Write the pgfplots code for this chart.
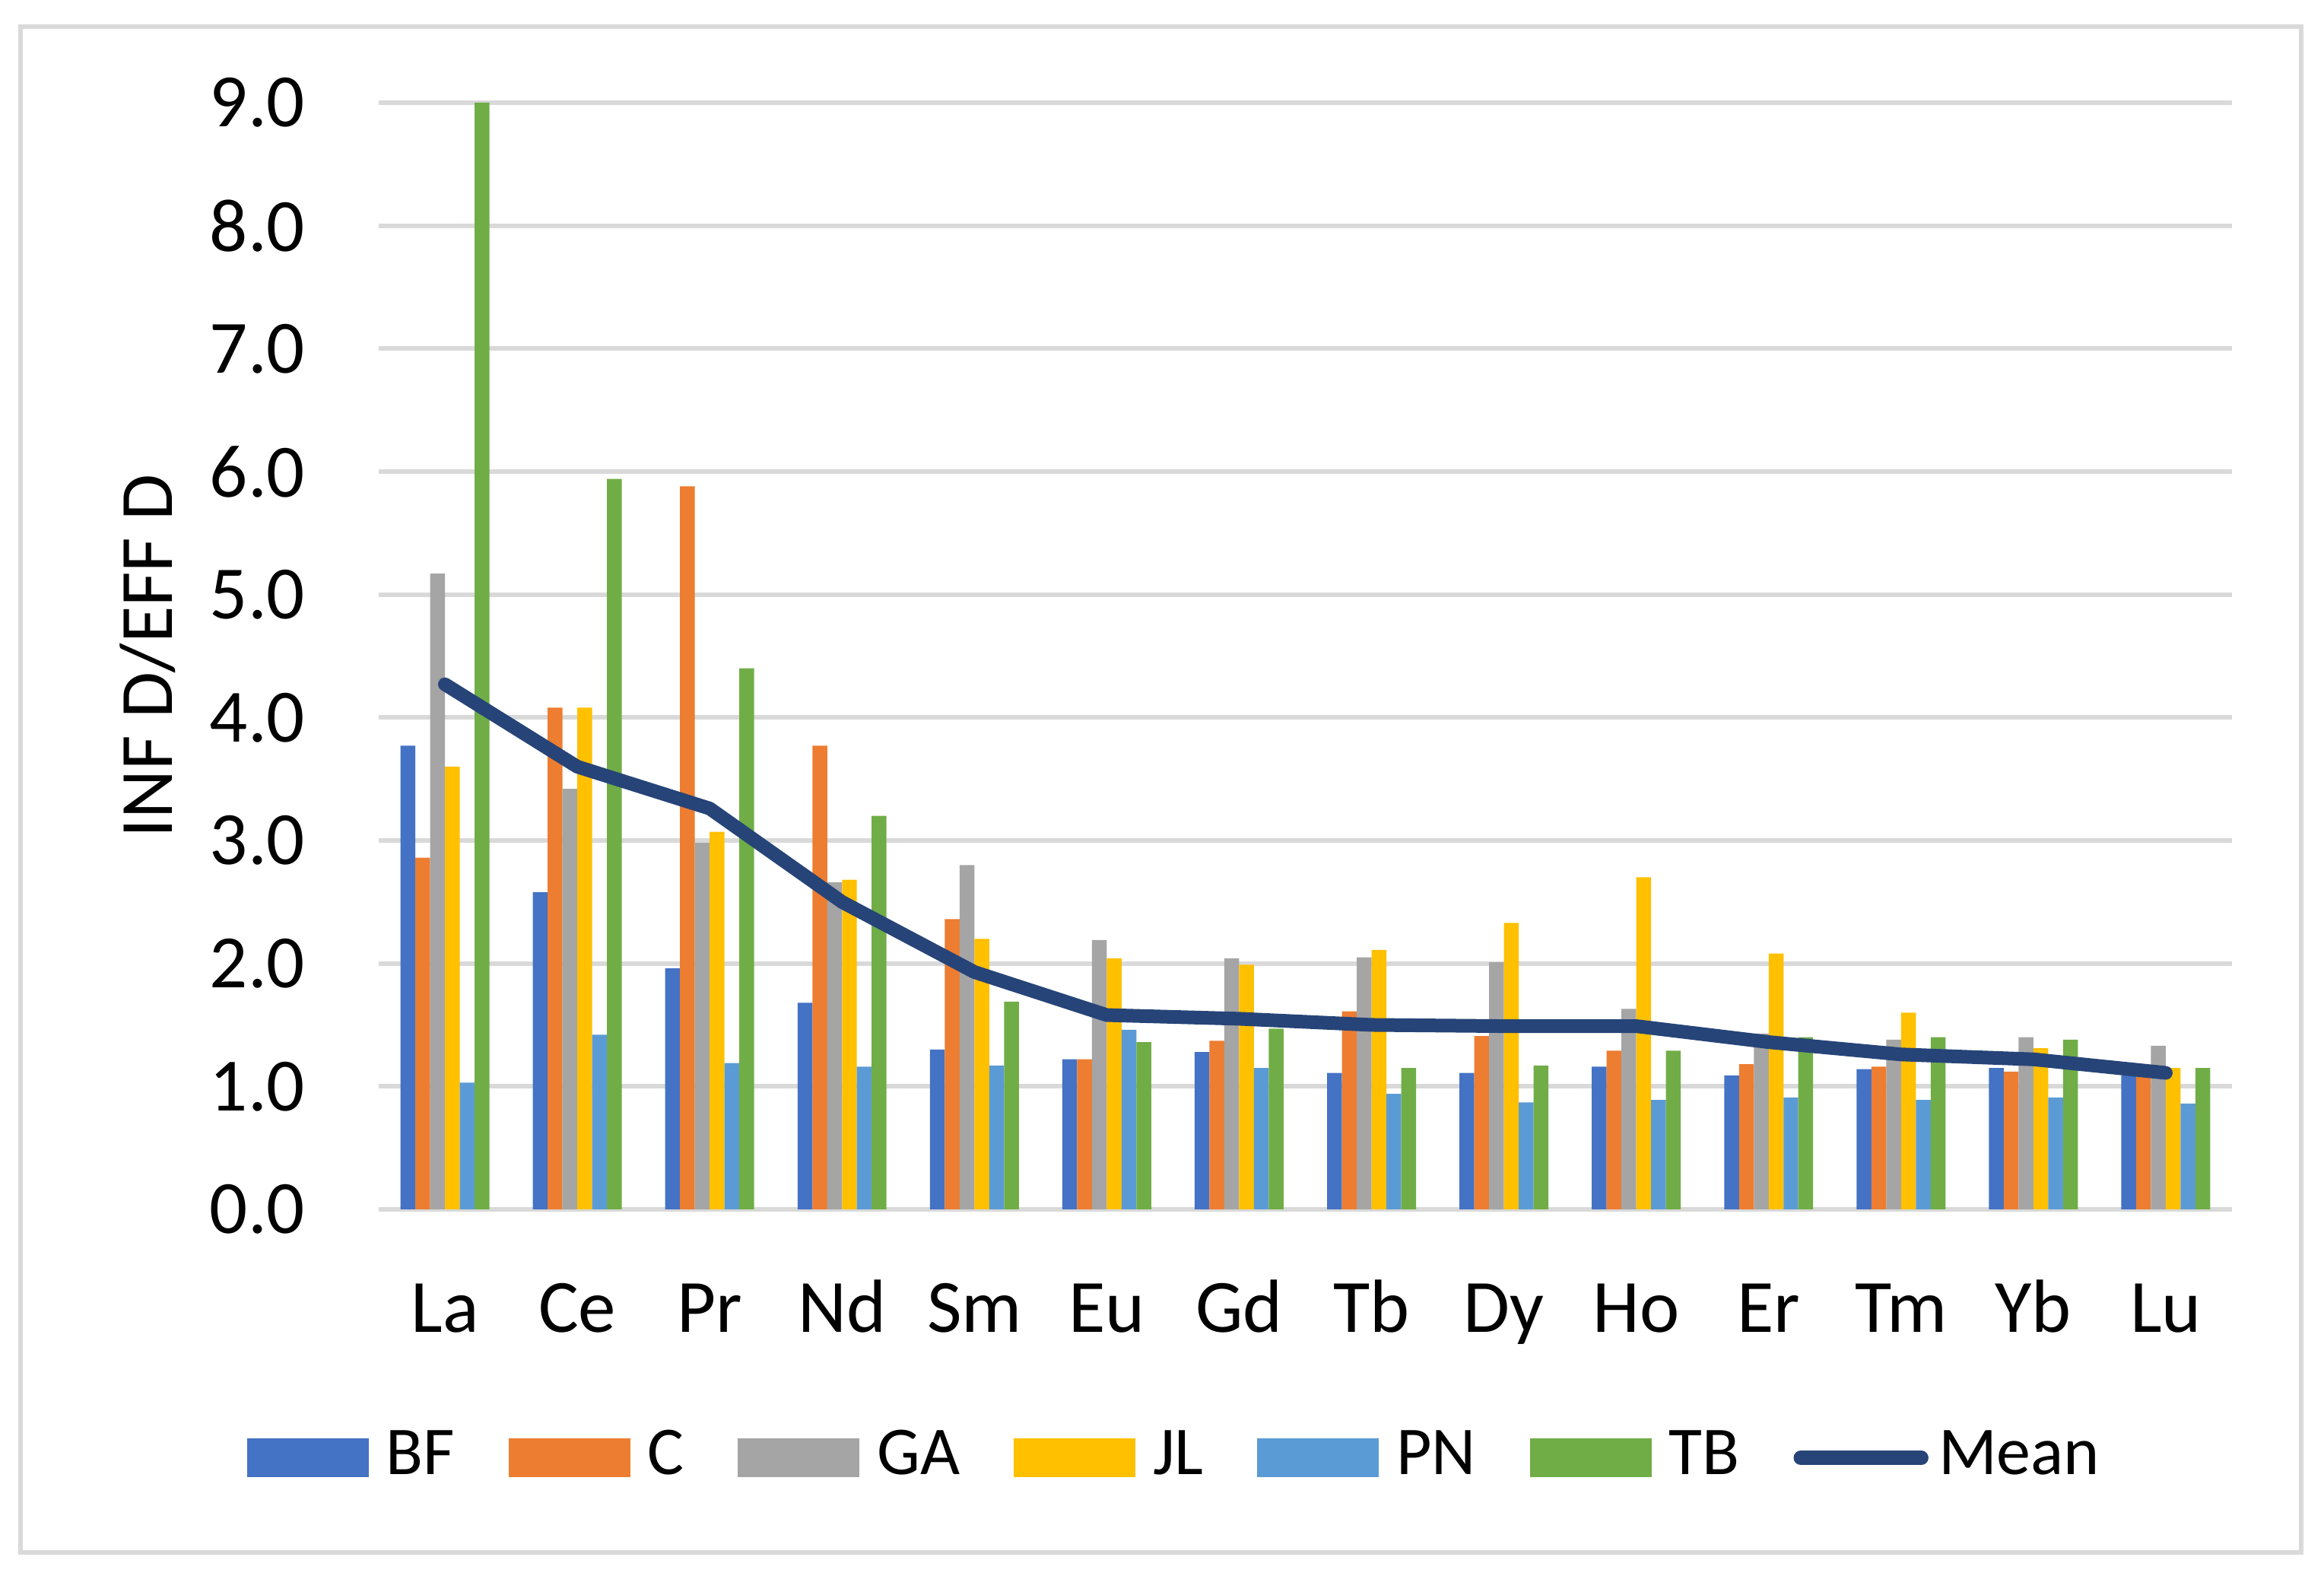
\documentclass[border=0pt]{standalone}
\usepackage{fontspec}
\setmainfont{Carlito}
\usepackage{pgfplots}
\usepackage{pgfplotstable}
\pgfplotsset{compat=1.18}

\definecolor{cBF}{HTML}{4472C4}
\definecolor{cC}{HTML}{ED7D31}
\definecolor{cGA}{HTML}{A5A5A5}
\definecolor{cJL}{HTML}{FFC000}
\definecolor{cPN}{HTML}{5B9BD5}
\definecolor{cTB}{HTML}{70AD47}
\definecolor{cMean}{HTML}{264478}
\definecolor{gridgray}{HTML}{D9D9D9}

% ratio of infinite to effective dose per element
\pgfplotstableread{
x BF   C    GA   JL   PN   TB   Mean
0  3.77 2.86 5.17 3.60 1.03 9.00 4.27
1  2.58 4.08 3.42 4.08 1.42 5.94 3.60
2  1.96 5.88 2.98 3.07 1.19 4.40 3.26
3  1.68 3.77 2.66 2.68 1.16 3.20 2.50
4  1.30 2.36 2.80 2.20 1.17 1.69 1.93
5  1.22 1.22 2.19 2.04 1.46 1.36 1.58
6  1.28 1.37 2.04 1.99 1.15 1.47 1.55
7  1.11 1.61 2.05 2.11 0.94 1.15 1.50
8  1.11 1.41 2.01 2.33 0.87 1.17 1.49
9  1.16 1.29 1.63 2.70 0.89 1.29 1.49
10 1.09 1.18 1.43 2.08 0.91 1.40 1.36
11 1.14 1.16 1.38 1.60 0.89 1.40 1.26
12 1.15 1.12 1.40 1.31 0.91 1.38 1.22
13 1.09 1.08 1.33 1.15 0.86 1.15 1.11
}\data

\pgfplotsset{
  bars/.style 2 args={ybar, bar width=0.112, bar shift=#2, fill=#1, draw=none,
    legend image code/.code={\fill[#1] (0pt,-7.3pt) rectangle (40pt,5.45pt);}},
}

\begin{document}
\begin{tikzpicture}
\useasboundingbox (0,0) rectangle (764pt,518pt);
\draw[gridgray, line width=1.5pt] (6.75pt,7.75pt) rectangle (756.5pt,509.25pt);
\begin{axis}[
    at={(124.5pt,120.5pt)}, anchor=south west,
    scale only axis, width=609.25pt, height=363.75pt,
    xmin=-0.5, xmax=13.5, ymin=0, ymax=9,
    axis line style={draw=none},
    major tick length=0pt,
    ymajorgrids, grid style={gridgray, line width=1.5pt},
    xtick={0,...,13},
    xticklabels={La,Ce,Pr,Nd,Sm,Eu,Gd,Tb,Dy,Ho,Er,Tm,Yb,Lu},
    ytick={0,...,9},
    yticklabels={0.0,1.0,2.0,3.0,4.0,5.0,6.0,7.0,8.0,9.0},
    tick label style={font=\fontsize{24.75}{30}\selectfont},
    xticklabel style={anchor=base, inner sep=0pt, yshift=-40.5pt},
    yticklabel style={anchor=east, inner sep=0pt, xshift=-24pt},
    ylabel={INF D/EFF D},
    every axis y label/.style={at={(axis description cs:-0.1116,0.5)}, rotate=90, anchor=base,
      font=\fontsize{24.75}{30}\selectfont},
    legend columns=-1,
    legend style={at={(axis description cs:-0.0715,-0.2444)}, anchor=south west,
      draw=none, fill=none, inner sep=0pt,
      font=\fontsize{22.5}{27}\selectfont,
      nodes={inner sep=0pt},
      /tikz/every odd column/.append style={column sep=5.75pt},
      /tikz/every even column/.append style={column sep=17.7pt}},
]
\addplot[bars={cBF}{-0.28}]  table[x=x,y=BF]{\data};
\addplot[bars={cC}{-0.168}]  table[x=x,y=C]{\data};
\addplot[bars={cGA}{-0.056}] table[x=x,y=GA]{\data};
\addplot[bars={cJL}{0.056}]  table[x=x,y=JL]{\data};
\addplot[bars={cPN}{0.168}]  table[x=x,y=PN]{\data};
\addplot[bars={cTB}{0.28}]   table[x=x,y=TB]{\data};
\addplot[cMean, line width=4.5pt, line cap=round, line join=round, mark=none,
  legend image code/.code={%
    \pgfpathrectangle{\pgfpoint{0pt}{-7.3pt}}{\pgfpoint{41.9pt}{12.75pt}}%
    \pgfusepath{use as bounding box}%
    \draw[cMean, line width=4.75pt, line cap=round] (2.4pt,-1.05pt) -- (42pt,-1.05pt);}]
  table[x=x,y=Mean]{\data};
\legend{BF,C,GA,JL,PN,TB,Mean}
\end{axis}
\end{tikzpicture}
\end{document}
